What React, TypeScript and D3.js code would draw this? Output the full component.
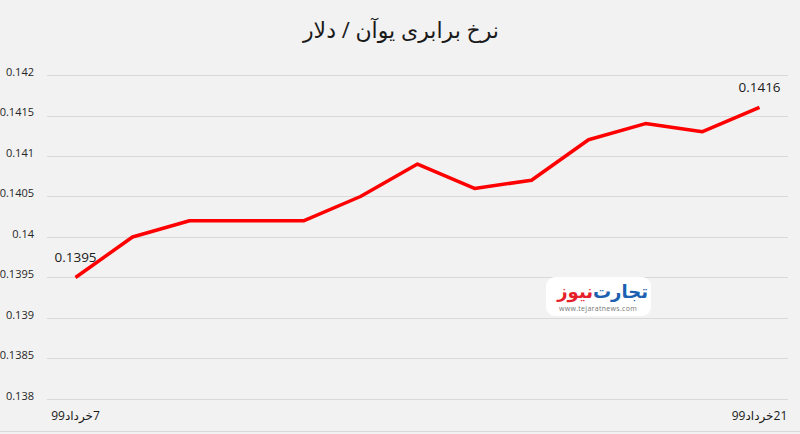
import React from "react";
import * as d3 from "d3";

const title = "نرخ برابری یوآن / دلار";
const days = [7, 8, 10, 11, 12, 13, 14, 15, 17, 18, 19, 20, 21];
const dateLabels = days.map((d) => `${d}خرداد99`);
const shownDateIdx = [0, 12];
const values = [0.1395, 0.14, 0.1402, 0.1402, 0.1402, 0.1405, 0.1409, 0.1406, 0.1407, 0.1412, 0.1414, 0.1413, 0.1416];
const labeledIdx = [0, 12];
const yTickValues = [0.138, 0.1385, 0.139, 0.1395, 0.14, 0.1405, 0.141, 0.1415, 0.142];
const yTickLabels = ["0.138", "0.1385", "0.139", "0.1395", "0.14", "0.1405", "0.141", "0.1415", "0.142"];

const W = 800;
const H = 434;
const font = "'Open Sans', 'DejaVu Sans', sans-serif";

export default function App() {
  const x = d3.scalePoint<number>().domain(d3.range(values.length)).range([47, 788]).padding(0.5);
  const y = d3.scaleLinear().domain([0.138, 0.142]).range([399, 75]);
  const line = d3
    .line<number>()
    .x((_, i) => x(i) as number)
    .y((d) => y(d));
  const RLM = "\u200F";
  return (
    <svg
      width={W}
      height={H}
      style={{ position: "absolute", left: 0, top: 0, display: "block" }}
    >
      <rect x={0} y={0} width={W} height={H} fill="#f2f2f2" />
      <line x1={0} x2={W} y1={431.5} y2={431.5} stroke="#d9d9d9" strokeWidth={1} />
      <text x={401} y={38} textAnchor="middle" fontFamily={font} fontSize={22} fill="#1a1a1a">
        {title}
      </text>
      {yTickValues.map((v, i) => (
        <g key={i}>
          <line x1={47} x2={788} y1={Math.round(y(v)) + 0.5} y2={Math.round(y(v)) + 0.5} stroke="#d9d9d9" strokeWidth={1} />
          <text
            x={34}
            y={y(v) - 2}
            textAnchor="end"
            dominantBaseline="middle"
            fontFamily={font}
            fontSize={11}
            fontWeight={500}
            fill="#262626"
          >
            {yTickLabels[i]}
          </text>
        </g>
      ))}
      <g>
        <rect x={546} y={277} width={105} height={39} rx={9} fill="#ffffff" />
        <text x={593} y={298} textAnchor="end" fontFamily={font} fontSize={18} fontWeight={700} fill="#e5202a">
          نیوز
        </text>
        <text x={593} y={298} textAnchor="start" fontFamily={font} fontSize={18} fontWeight={700} fill="#1d5fb0">
          {"\u200Fتجارت"}
        </text>
        <text x={598} y={311} textAnchor="middle" fontFamily={font} fontSize={7} letterSpacing={0.3} fill="#777">
          www.tejaratnews.com
        </text>
      </g>
      <path d={line(values) || ""} fill="none" stroke="#ff0000" strokeWidth={3.5} strokeLinejoin="round" />
      {labeledIdx.map((i) => (
        <text
          key={i}
          x={x(i) as number}
          y={y(values[i]) - 19}
          textAnchor="middle"
          dominantBaseline="middle"
          fontFamily={font}
          fontSize={13.5}
          fill="#1a1a1a"
        >
          {String(values[i])}
        </text>
      ))}
      {shownDateIdx.map((i) => (
        <text
          key={i}
          x={x(i) as number}
          y={417}
          textAnchor="middle"
          dominantBaseline="middle"
          fontFamily={font}
          fontSize={12}
          fill="#1a1a1a"
        >
          {RLM + dateLabels[i] + RLM}
        </text>
      ))}
    </svg>
  );
}
